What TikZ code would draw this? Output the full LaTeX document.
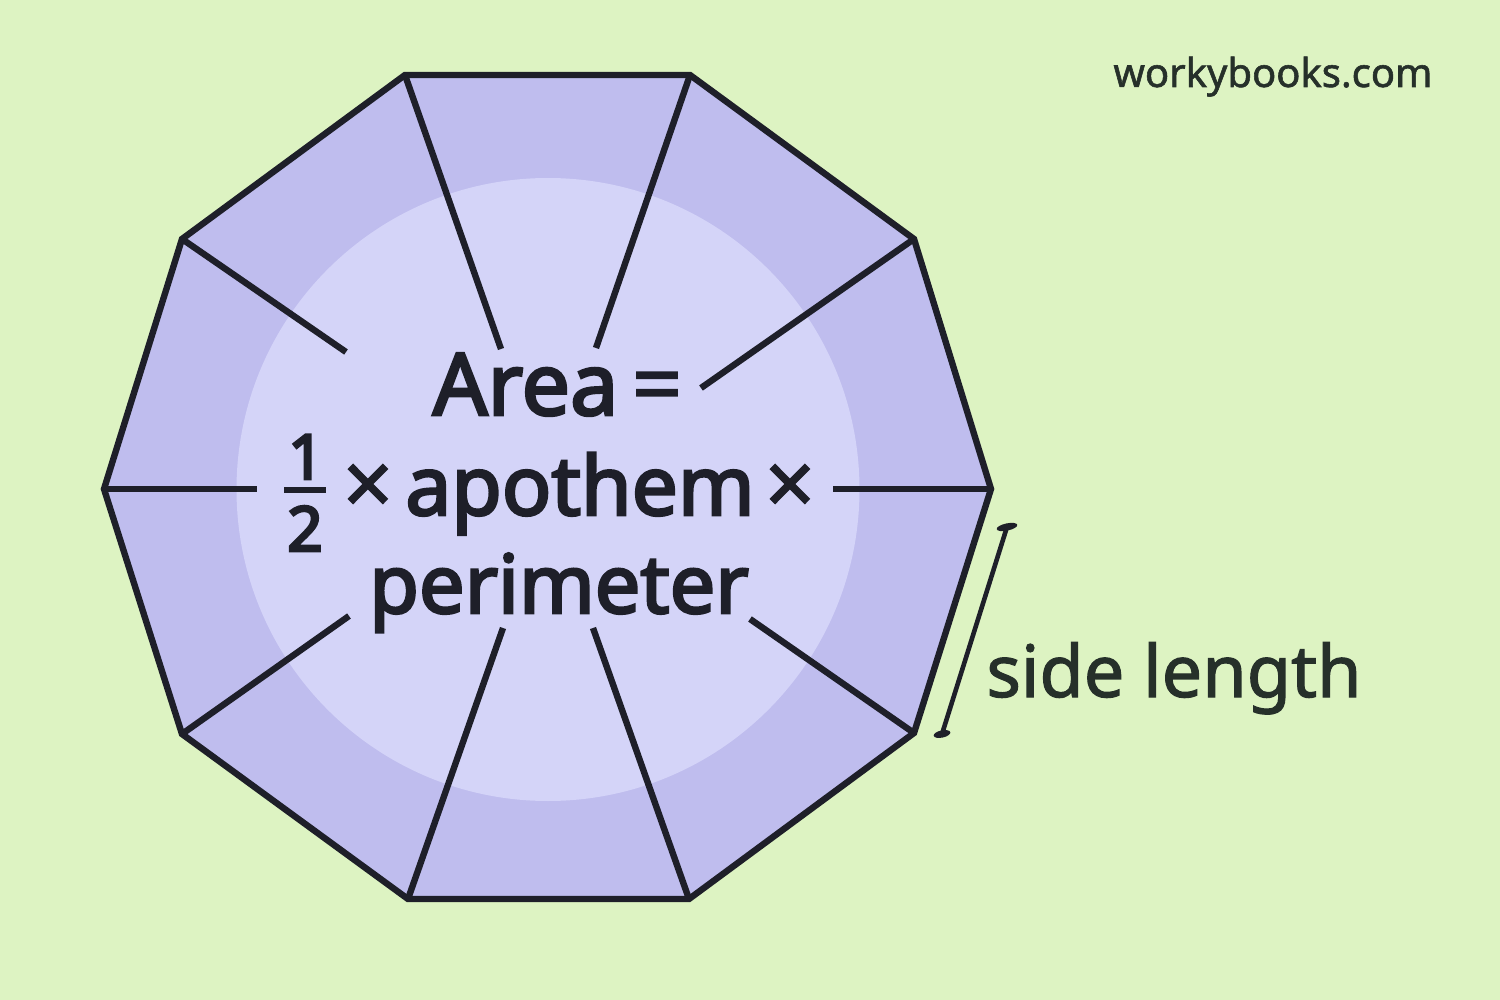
\documentclass[tikz,border=0pt]{standalone}
\usepackage{fontspec}
\setmainfont{Noto Sans}
\newfontfamily\fbf[FakeBold=3.2]{Noto Sans}
\newfontfamily\fbd[FakeBold=4.5]{Noto Sans}
\newfontfamily\fmd[FakeBold=1.6]{Noto Sans}
\newfontfamily\fsm[FakeBold=1.4]{Noto Sans}
\definecolor{bgc}{HTML}{DDF3C2}
\definecolor{polyc}{HTML}{BFBDEE}
\definecolor{circc}{HTML}{D4D4F8}
\definecolor{inkc}{HTML}{1E1F29}
\definecolor{labc}{HTML}{26302A}
\tikzset{
  px/.style={x=0.5pt,y=-0.5pt},
  spoke/.style={draw=inkc,line width=3.2pt},
  formula/.style={anchor=base,inner sep=0pt,outer sep=0pt,text=inkc,font=\fmd\fontsize{44}{50}\selectfont},
  formulab/.style={formula,font=\fbf\fontsize{41}{50}\selectfont},
  digit/.style={anchor=base,inner sep=0pt,text=inkc,font=\fbd\fontsize{31}{36}\selectfont},
  lab/.style={anchor=base,inner sep=0pt,text=labc}
}
\begin{document}
\begin{tikzpicture}[px]
\useasboundingbox (0,0) rectangle (1500,1000);
\fill[bgc] (0,0) rectangle (1500,1000);
\coordinate (v1) at (405,75);
\coordinate (v2) at (690,75);
\coordinate (v3) at (914,239);
\coordinate (v4) at (991,489);
\coordinate (v5) at (914,733);
\coordinate (v6) at (689,899);
\coordinate (v7) at (408,899);
\coordinate (v8) at (182,734);
\coordinate (v9) at (104,489);
\coordinate (v10) at (182,239);
\fill[polyc] (v1)--(v2)--(v3)--(v4)--(v5)--(v6)--(v7)--(v8)--(v9)--(v10)--cycle;
\fill[circc] (548,489.5) circle[radius=311.5];
\coordinate (e1) at (501,349);
\coordinate (e2) at (596,348);
\coordinate (e3) at (701,388);
\coordinate (e4) at (833,489);
\coordinate (e5) at (750,619);
\coordinate (e6) at (593,628);
\coordinate (e7) at (503,628);
\coordinate (e8) at (349,616);
\coordinate (e9) at (257,489);
\coordinate (e10) at (346,352);
\foreach \i in {1,...,10} \draw[spoke] (v\i) -- (e\i);
\draw[spoke,line join=miter] (v1)--(v2)--(v3)--(v4)--(v5)--(v6)--(v7)--(v8)--(v9)--(v10)--cycle;
\node[formulab,font=\fbf\fontsize{43}{50}\selectfont] (area) at (525.5,415) {Area};
\node[formula] (eq) at (657,415) {=};
\node[digit] (one) at (306,479) {1};
\node[digit] (two) at (305,551) {2};
\coordinate (barl) at (284,490);
\coordinate (barr) at (326,490);
\draw[draw=inkc,line width=3.2pt] (barl) -- (barr);
\node[formula] (t1) at (368,515) {×};
\node[formulab] (apo) at (580,515) {apothem};
\node[formula] (t2) at (790,515) {×};
\node[formulab,font=\fbf\fontsize{40.5}{50}\selectfont] (peri) at (559,613) {perimeter};
\node[lab,font=\fmd\fontsize{36}{42}\selectfont] (side) at (1174,697) {side length};
\node[lab,font=\fsm\fontsize{20}{24}\selectfont] (brand) at (1273,87) {workybooks.com};
\coordinate (bt) at (1007,527);
\coordinate (bb) at (942,734);
\draw[draw=inkc,line width=2.3pt] (bt) -- (bb);
\fill[inkc,rotate around={12:(bt)}] (bt) ellipse[x radius=10.5,y radius=3.6];
\fill[inkc,rotate around={12:(bb)}] (bb) ellipse[x radius=8.5,y radius=3.6];
\end{tikzpicture}
\end{document}
